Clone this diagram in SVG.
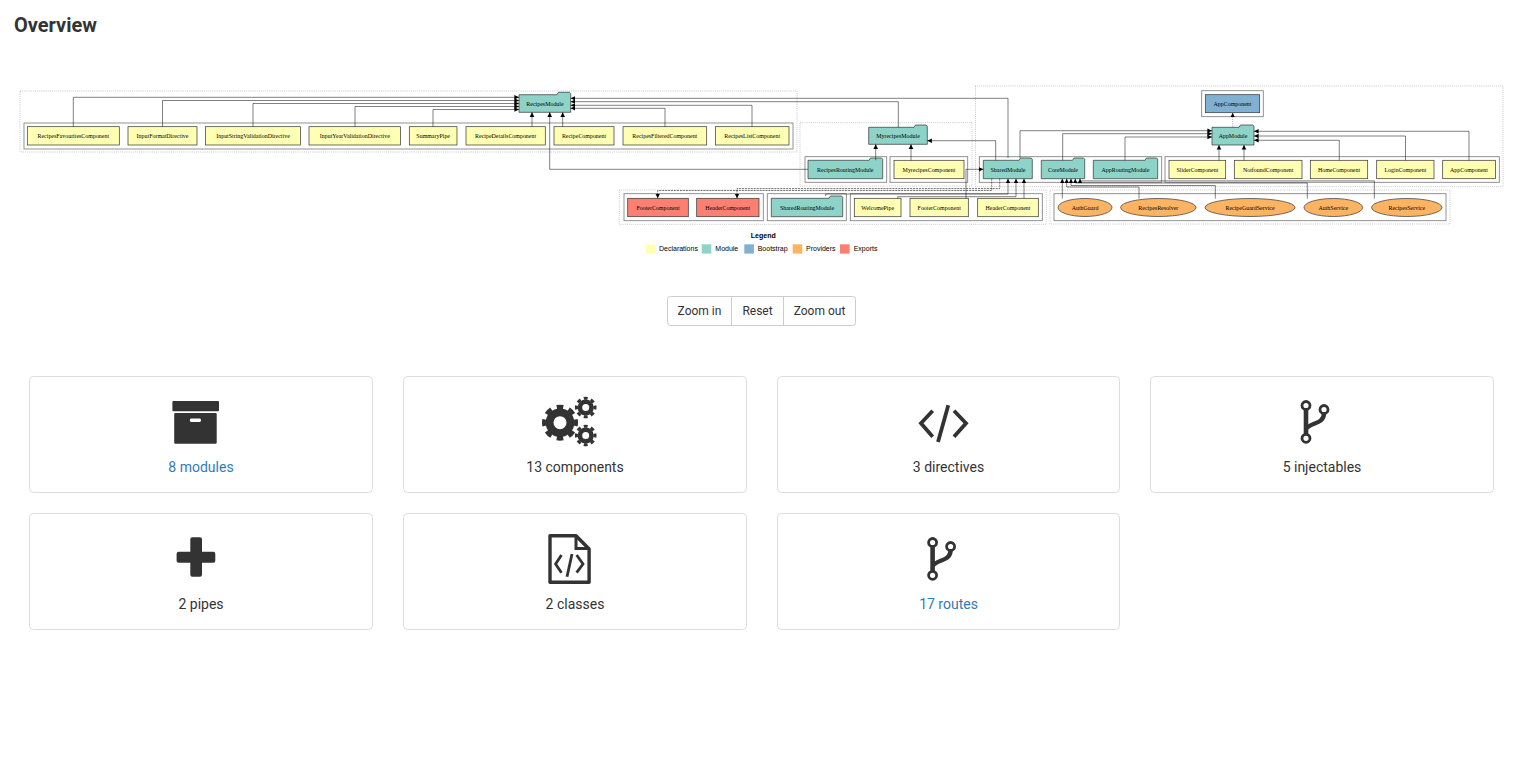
<svg xmlns="http://www.w3.org/2000/svg" width="1516" height="782" viewBox="0 0 1516 782">
<style>
text{font-family:"Liberation Serif","Times New Roman",serif;font-size:5.95px;text-anchor:middle;fill:#000}
.n{stroke:#333;stroke-width:.7}
.y{fill:#ffffb3}.t{fill:#8dd3c7}.b{fill:#80b1d3}.o{fill:#fdb462}.r{fill:#fb8072}
.c{fill:none;stroke:#000;stroke-width:.85;stroke-opacity:.5}
.d{fill:none;stroke:#000;stroke-opacity:.75;stroke-width:.43;stroke-dasharray:.6 1.3}
.e{fill:none;stroke:#000;stroke-width:.5;marker-end:url(#a)}
.x{stroke-dasharray:2.1 .85}
.l{font-family:"Liberation Sans",Arial,sans-serif;font-size:7px;text-anchor:start}
.ui{font-family:Roboto,"Liberation Sans",sans-serif;font-size:14px;fill:#333}
.link{fill:#337ab7}
.card{fill:#fff;stroke:#ddd}
.ic{fill:#333}
.is{fill:none;stroke:#333}
</style>
<defs>
<marker id="a" markerUnits="userSpaceOnUse" markerWidth="6" markerHeight="6" refX="4.6" refY="3" orient="auto"><path d="M0 .7L4.6 3L0 5.3Z" fill="#000"/></marker>
<g id="branch">
<circle cx="1306" cy="405.5" r="4" fill="none" stroke="#333" stroke-width="2.8"/>
<circle cx="1324" cy="409.5" r="4" fill="none" stroke="#333" stroke-width="2.8"/>
<circle cx="1306" cy="438.3" r="4" fill="none" stroke="#333" stroke-width="2.8"/>
<path d="M1306 409V435" fill="none" stroke="#333" stroke-width="4.6"/>
<path d="M1324 413C1324 425 1310 422 1306 429" fill="none" stroke="#333" stroke-width="4.4"/>
</g>
</defs>
<rect width="1516" height="782" fill="#fff"/>
<text x="14" y="32" style="font-family:Roboto,'Liberation Sans',sans-serif;font-size:20px;font-weight:700;text-anchor:start;fill:#333">Overview</text>

<g id="clusters">
<rect class="d" x="20" y="91" width="777" height="61"/>
<rect class="c" x="24" y="123" width="769" height="26"/>
<rect class="d" x="800" y="122.7" width="172" height="63.3"/>
<rect class="c" x="805" y="156.7" width="81.7" height="25.6"/>
<rect class="c" x="890" y="156.7" width="77.7" height="25.6"/>
<rect class="d" x="975.5" y="86" width="527.5" height="100.7"/>
<rect class="c" x="979.3" y="156.7" width="182.4" height="25.6"/>
<rect class="c" x="1165" y="156.7" width="334.3" height="25.6"/>
<rect class="c" x="1201.7" y="90.7" width="61.6" height="26"/>
<rect class="d" x="619.3" y="190" width="427" height="34.3"/>
<rect class="c" x="624" y="193.7" width="139.3" height="27"/>
<rect class="c" x="767.3" y="193.7" width="79" height="27"/>
<rect class="c" x="850.3" y="193.7" width="192" height="27"/>
<rect class="d" x="1050" y="190" width="400" height="34"/>
<rect class="c" x="1054" y="193.7" width="392" height="27"/>
</g>

<g id="RecipesFavouritesComponent"><rect class="n y" x="27.3" y="126.7" width="92" height="18.3"/><text x="73.3" y="137.8">RecipesFavouritesComponent</text></g>
<g id="InputFormatDirective"><rect class="n y" x="128" y="126.7" width="69" height="18.3"/><text x="162.5" y="137.8">InputFormatDirective</text></g>
<g id="InputStringValidationDirective"><rect class="n y" x="205.5" y="126.7" width="95" height="18.3"/><text x="253" y="137.8">InputStringValidationDirective</text></g>
<g id="InputYearValidationDirective"><rect class="n y" x="309" y="126.7" width="91.5" height="18.3"/><text x="354.8" y="137.8">InputYearValidationDirective</text></g>
<g id="SummaryPipe"><rect class="n y" x="409.3" y="126.7" width="47.7" height="18.3"/><text x="433.2" y="137.8">SummaryPipe</text></g>
<g id="RecipeDetailsComponent"><rect class="n y" x="466" y="126.7" width="79.3" height="18.3"/><text x="505.6" y="137.8">RecipeDetailsComponent</text></g>
<g id="RecipeComponent"><rect class="n y" x="554" y="126.7" width="60" height="18.3"/><text x="584" y="137.8">RecipeComponent</text></g>
<g id="RecipesFilteredComponent"><rect class="n y" x="623" y="126.7" width="83.7" height="18.3"/><text x="664.8" y="137.8">RecipesFilteredComponent</text></g>
<g id="RecipesListComponent"><rect class="n y" x="715.5" y="126.7" width="73.5" height="18.3"/><text x="752.2" y="137.8">RecipesListComponent</text></g>
<g id="RecipesModule"><path class="n t" d="M519 94.7H557L558.5 92.3H569.5L570.7 93.5V112.3H519Z"/><text x="545" y="105.8">RecipesModule</text></g>

<g id="MyrecipesModule"><path class="n t" d="M868.7 127.3H914L915.5 125H926L927.3 126.2V144.3H868.7Z"/><text x="898" y="137.8">MyrecipesModule</text></g>
<g id="RecipesRoutingModule"><path class="n t" d="M808 160.3H869L870.5 158H881.5L882.7 159.2V178.7H808Z"/><text x="845.3" y="171.8">RecipesRoutingModule</text></g>
<g id="MyrecipesComponent"><rect class="n y" x="894" y="160.3" width="70" height="18.4"/><text x="929" y="171.8">MyrecipesComponent</text></g>

<g id="SharedModule"><path class="n t" d="M983.3 160.3H1019L1020.5 158H1031L1032.3 159.2V178.7H983.3Z"/><text x="1008" y="171.8">SharedModule</text></g>
<g id="CoreModule"><path class="n t" d="M1041.3 160.3H1072.5L1074 158H1083.5L1084.7 159.2V178.7H1041.3Z"/><text x="1063" y="171.8">CoreModule</text></g>
<g id="AppRoutingModule"><path class="n t" d="M1093.3 160.3H1145L1146.5 158H1156.5L1157.7 159.2V178.7H1093.3Z"/><text x="1125.5" y="171.8">AppRoutingModule</text></g>
<g id="SliderComponent"><rect class="n y" x="1169" y="160.3" width="56.7" height="18.4"/><text x="1197.4" y="171.8">SliderComponent</text></g>
<g id="NotfoundComponent"><rect class="n y" x="1234.3" y="160.3" width="67.7" height="18.4"/><text x="1268.2" y="171.8">NotfoundComponent</text></g>
<g id="HomeComponent"><rect class="n y" x="1310.3" y="160.3" width="57.4" height="18.4"/><text x="1339" y="171.8">HomeComponent</text></g>
<g id="LoginComponent"><rect class="n y" x="1376.7" y="160.3" width="57.3" height="18.4"/><text x="1405.4" y="171.8">LoginComponent</text></g>
<g id="AppComponentDeclaration"><rect class="n y" x="1442.7" y="160.3" width="52.8" height="18.4"/><text x="1469" y="171.8">AppComponent</text></g>
<g id="AppComponentBootstrap"><rect class="n b" x="1205.3" y="94.7" width="54.4" height="18"/><text x="1232.5" y="105.8">AppComponent</text></g>
<g id="AppModule"><path class="n t" d="M1212 127.3H1239L1240.5 125H1252.8L1254 126.2V145H1212Z"/><text x="1233" y="137.8">AppModule</text></g>

<g id="FooterComponentExport"><rect class="n r" x="627.7" y="198.3" width="60.6" height="18.4"/><text x="658" y="209.8">FooterComponent</text></g>
<g id="HeaderComponentExport"><rect class="n r" x="696.7" y="198.3" width="62.3" height="18.4"/><text x="727.8" y="209.8">HeaderComponent</text></g>
<g id="SharedRoutingModule"><path class="n t" d="M771.3 198.3H829L830.5 196H841.5L842.7 197.2V216.7H771.3Z"/><text x="807" y="209.8">SharedRoutingModule</text></g>
<g id="WelcomePipe"><rect class="n y" x="854.3" y="198.3" width="46.7" height="18.4"/><text x="877.7" y="209.8">WelcomePipe</text></g>
<g id="FooterComponent"><rect class="n y" x="910" y="198.3" width="58.3" height="18.4"/><text x="939.2" y="209.8">FooterComponent</text></g>
<g id="HeaderComponent"><rect class="n y" x="977.7" y="198.3" width="60.6" height="18.4"/><text x="1008" y="209.8">HeaderComponent</text></g>
<g id="AuthGuard"><ellipse class="n o" cx="1085" cy="207.5" rx="27" ry="9"/><text x="1085" y="209.8">AuthGuard</text></g>
<g id="RecipesResolver"><ellipse class="n o" cx="1158.3" cy="207.5" rx="37.7" ry="9"/><text x="1158.3" y="209.8">RecipesResolver</text></g>
<g id="RecipeGuardService"><ellipse class="n o" cx="1250" cy="207.5" rx="45" ry="9"/><text x="1250" y="209.8">RecipeGuardService</text></g>
<g id="AuthService"><ellipse class="n o" cx="1333.3" cy="207.5" rx="29.3" ry="9"/><text x="1333.3" y="209.8">AuthService</text></g>
<g id="RecipesService"><ellipse class="n o" cx="1406.8" cy="207.5" rx="35.2" ry="9"/><text x="1406.8" y="209.8">RecipesService</text></g>

<g id="connectors">
<path class="e" d="M73.3 126.7V97.3H519"/>
<path class="e" d="M162.5 126.7V100.5H519"/>
<path class="e" d="M253 126.7V103.5H519"/>
<path class="e" d="M355 126.7V106.5H519"/>
<path class="e" d="M433 126.7V109.5H519"/>
<path class="e" d="M532 126.7V112.3"/>
<path class="e" d="M562.7 126.7V112.3"/>
<path class="e" d="M808 169.3H549.7V112.3"/>
<path class="e" d="M665 126.7V108.3H570.7"/>
<path class="e" d="M752 126.7V105.3H570.7"/>
<path class="e" d="M898.3 127.3V101.7H570.7"/>
<path class="e" d="M1008 158V98.3H570.7"/>
<path class="e" d="M875.7 160.3V144.3"/>
<path class="e" d="M911 160.3V144.3"/>
<path class="e" d="M995.7 160.3V140.7H927.3"/>
<path class="e" d="M1020 158V130.7H1212"/>
<path class="e" d="M1062.7 160.3V133.7H1212"/>
<path class="e" d="M1125 160.3V137H1212"/>
<path class="e" d="M1219 160.3V145"/>
<path class="e" d="M1244 160.3V145"/>
<path class="e" d="M1339.3 160.3V140.3H1254"/>
<path class="e" d="M1405.5 160.3V136H1254"/>
<path class="e" d="M1469 160.3V131.3H1254"/>
<path class="e" d="M1232.7 127.3V112.7" stroke-dasharray=".6 1.3"/>
<path class="e" d="M966 198.3V169.3H983.3"/>
<path class="e" d="M897.7 198.3V196.7H1016V178.7"/>
<path class="e" d="M825.7 196V194H1008V178.7"/>
<path class="e" d="M1024 198.3V178.7"/>
<path class="e x" d="M991.7 178.7V190.5H657.7V198.3"/>
<path class="e x" d="M999.7 178.7V188.5H737V198.3"/>
<path class="e" d="M1062.3 198.5V178.7"/>
<path class="e" d="M1139 198.6V187H1066.7V178.7"/>
<path class="e" d="M1215.3 198.6V185.5H1071V178.7"/>
<path class="e" d="M1307.3 198.6V183H1075.3V178.7"/>
<path class="e" d="M1374.3 198.6V180.9H1080V178.7"/>
</g>

<g id="legend">
<text x="763.3" y="238.2" style="font-family:'Liberation Sans',Arial,sans-serif;font-size:7px;font-weight:700">Legend</text>
<rect class="y" x="645.7" y="244.3" width="9.6" height="9.3"/><text class="l" x="659" y="251">Declarations</text>
<rect class="t" x="701.7" y="244.3" width="9.6" height="9.3"/><text class="l" x="715.3" y="251">Module</text>
<rect class="b" x="744.3" y="244.3" width="9.6" height="9.3"/><text class="l" x="757.7" y="251">Bootstrap</text>
<rect class="o" x="792.7" y="244.3" width="9.6" height="9.3"/><text class="l" x="806" y="251">Providers</text>
<rect class="r" x="840" y="244.3" width="9.6" height="9.3"/><text class="l" x="853.7" y="251">Exports</text>
</g>

<g id="zoom-buttons">
<rect x="667.5" y="296.5" width="188" height="29" rx="3" fill="#fff" stroke="#ccc"/>
<path d="M731.5 296.5V325.5M783.5 296.5V325.5" stroke="#ccc" fill="none"/>
<text class="ui" x="699.5" y="315" style="font-size:12px">Zoom in</text>
<text class="ui" x="757.5" y="315" style="font-size:12px">Reset</text>
<text class="ui" x="819.5" y="315" style="font-size:12px">Zoom out</text>
</g>

<g id="card-modules">
<rect class="card" x="29.5" y="376.5" width="343" height="116" rx="4"/>
<rect class="ic" x="172.4" y="401" width="46.6" height="10.3" rx="1"/>
<path class="ic" fill-rule="evenodd" d="M175.2 413H215.7Q216.7 413 216.7 414V442.7Q216.7 443.7 215.7 443.7H175.2Q174.2 443.7 174.2 442.7V414Q174.2 413 175.2 413ZM191 418.4Q189.8 418.4 189.8 420.2Q189.8 422 191 422H199.8Q201 422 201 420.2Q201 418.4 199.8 418.4Z"/>
<text class="ui link" x="201" y="472">8 modules</text>
</g>
<g id="card-components">
<rect class="card" x="403.5" y="376.5" width="343" height="116" rx="4"/>
<circle class="is" cx="560" cy="422.7" r="10.4" stroke-width="7.8"/>
<circle class="is" cx="560" cy="422.7" r="15.4" stroke-width="5.2" pathLength="80" stroke-dasharray="5.4 4.6" stroke-dashoffset="2.7"/>
<circle class="is" cx="585.7" cy="407.5" r="5.8" stroke-width="4.6"/>
<circle class="is" cx="585.7" cy="407.5" r="9.3" stroke-width="3" pathLength="80" stroke-dasharray="5.4 4.6" stroke-dashoffset="2.7"/>
<circle class="is" cx="585.7" cy="435.5" r="5.8" stroke-width="4.6"/>
<circle class="is" cx="585.7" cy="435.5" r="9.3" stroke-width="3" pathLength="80" stroke-dasharray="5.4 4.6" stroke-dashoffset="2.7"/>
<text class="ui" x="575" y="472">13 components</text>
</g>
<g id="card-directives">
<rect class="card" x="777.5" y="376.5" width="342" height="116" rx="4"/>
<path class="is" stroke-width="3.8" d="M932.7 410.7L921 423.3L932.7 436.7M954 410.7L966 423.3L954 436.7M948.3 405.3L938 442"/>
<text class="ui" x="948.5" y="472">3 directives</text>
</g>
<g id="card-injectables">
<rect class="card" x="1150.5" y="376.5" width="343" height="116" rx="4"/>
<use href="#branch"/>
<text class="ui" x="1322" y="472">5 injectables</text>
</g>
<g id="card-pipes">
<rect class="card" x="29.5" y="513.5" width="343" height="116" rx="4"/>
<path class="ic" d="M192.3 537.3H200Q202 537.3 202 539.3V551.7H213.3Q215.3 551.7 215.3 553.7V560.7Q215.3 562.7 213.3 562.7H202V574.7Q202 576.7 200 576.7H192.3Q190.3 576.7 190.3 574.7V562.7H178.6Q176.6 562.7 176.6 560.7V553.7Q176.6 551.7 178.6 551.7H190.3V539.3Q190.3 537.3 192.3 537.3Z"/>
<text class="ui" x="201" y="609">2 pipes</text>
</g>
<g id="card-classes">
<rect class="card" x="403.5" y="513.5" width="343" height="116" rx="4"/>
<path class="is" stroke-width="3.4" stroke-linejoin="round" d="M550 535.7H576L589.1 549V582.3H550Z"/>
<path class="is" stroke-width="3" d="M576 535.7V548.5H589.1"/>
<path class="is" stroke-width="2.8" d="M561.5 555L555.6 564L561.5 572.7M576.6 555L583 564L576.6 572.7M572 554L567 576.7"/>
<text class="ui" x="575" y="609">2 classes</text>
</g>
<g id="card-routes">
<rect class="card" x="777.5" y="513.5" width="342" height="116" rx="4"/>
<use href="#branch" transform="translate(-373.4 137)"/>
<text class="ui link" x="948.5" y="609">17 routes</text>
</g>
</svg>
